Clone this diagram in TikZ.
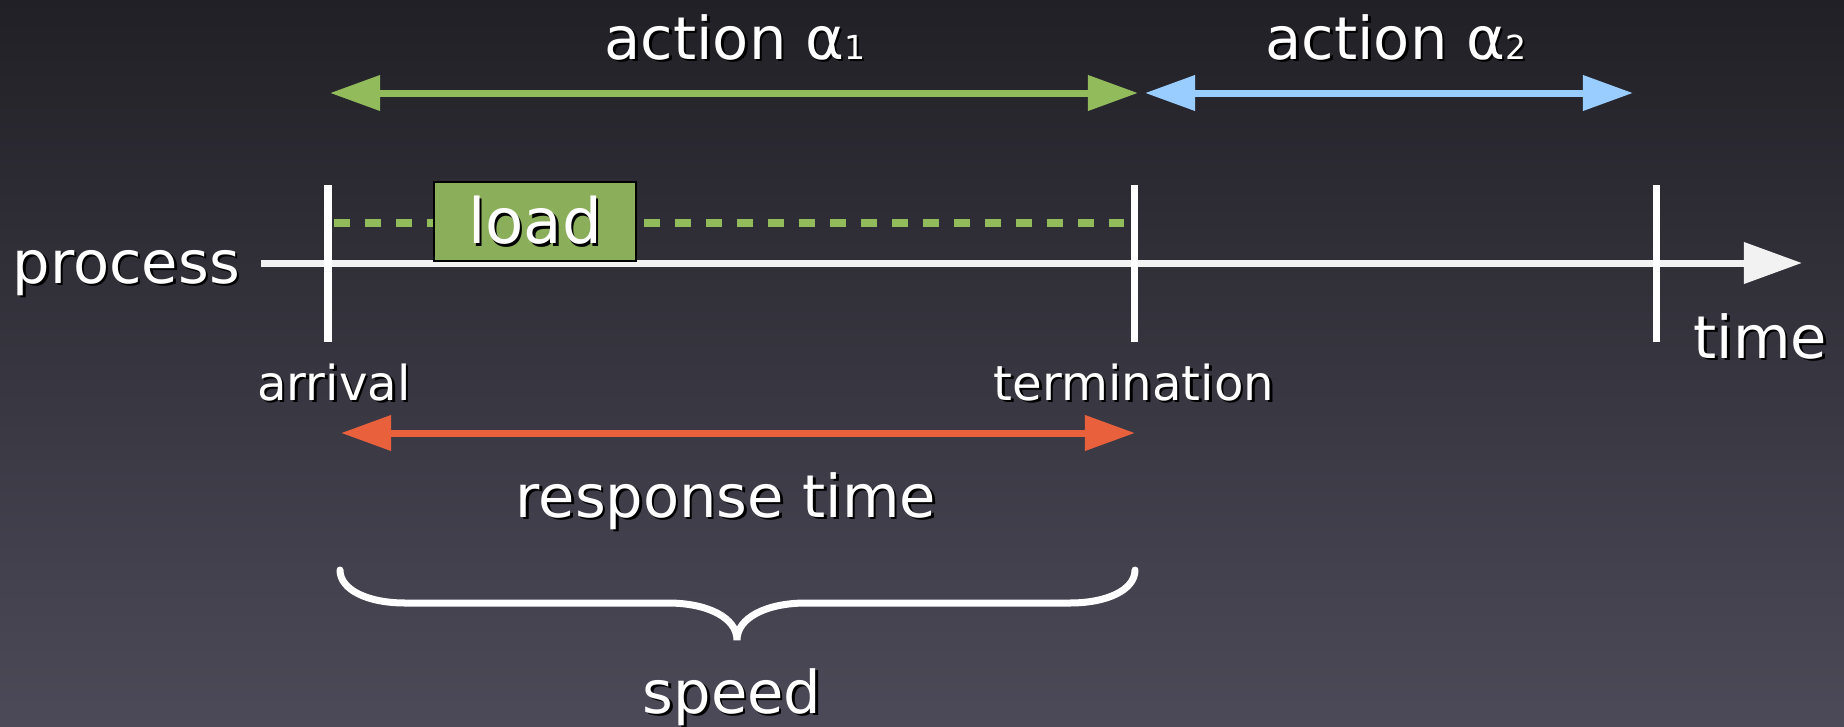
\documentclass[tikz,border=0pt]{standalone}
\usepackage{fontspec}
\setmainfont{DejaVu Sans}
\usetikzlibrary{arrows.meta}

\definecolor{bgtop}{HTML}{212026}
\definecolor{bgbot}{HTML}{4C4A58}
\definecolor{actgreen}{HTML}{92BB5C}
\definecolor{loadgreen}{HTML}{8AAE5A}
\definecolor{actblue}{HTML}{99CCFF}
\definecolor{respred}{HTML}{E9603D}
\definecolor{axisgray}{HTML}{F2F2F2}

% text with a small drop shadow
\newcommand\shtext[1]{\makebox[0pt][l]{\kern0.7pt\raisebox{-0.7pt}{\color{black}#1}}#1}

\tikzset{
    big/.style={text=white, inner sep=0pt, font=\fontsize{16.8pt}{19pt}\selectfont},
    small/.style={text=white, inner sep=0pt, font=\fontsize{13.7pt}{16pt}\selectfont},
    span/.style={line width=0.07cm, {Triangle[length=0.5cm,width=0.34cm]}-{Triangle[length=0.5cm,width=0.34cm]}},
    mark line/.style={white, line width=0.07cm}
}

\begin{document}
\begin{tikzpicture}[x=0.01cm, y=-0.01cm]
            \useasboundingbox (0,0) rectangle (1844,727);
            \shade[top color=bgtop, bottom color=bgbot] (0,0) rectangle (1844,727);

            % the two actions
            \coordinate (a1s) at (330,93);
            \coordinate (a1e) at (1138,93);
            \coordinate (a2s) at (1145,93);
            \coordinate (a2e) at (1633,93);
            \draw[span, actgreen] (a1s) -- (a1e);
            \draw[span, actblue] (a2s) -- (a2e);
            \node[big, anchor=base] (act1) at (735,59) {\shtext{action α{\fontsize{9.4pt}{10pt}\selectfont 1}}};
            \node[big, anchor=base] (act2) at (1396,59) {\shtext{action α{\fontsize{9.4pt}{10pt}\selectfont 2}}};

            % time axis
            \coordinate (start) at (261,263);
            \coordinate (end) at (1802,263);
            \draw[axisgray, line width=0.07cm, -{Triangle[length=0.58cm,width=0.4cm]}] (start) -- (end);
            \node[big, anchor=base west] (proc) at (12,283) {\shtext{process}};
            \node[big, anchor=base west] (time) at (1693,358) {\shtext{time}};

            % ticks
            \foreach \name/\x in {arr/328, term/1134, next/1656} {
                \coordinate (\name top) at (\x,185);
                \coordinate (\name bot) at (\x,342);
                \draw[mark line] (\name top) -- (\name bot);
            }

            % load
            \coordinate (ls) at (334,223);
            \coordinate (le) at (1124,223);
            \draw[actgreen, line width=0.08cm, dash pattern=on 0.16cm off 0.15cm] (ls) -- (le);
            \node[draw=black, line width=0.4pt, fill=loadgreen, minimum width=2.02cm, minimum height=0.79cm,
                  text=white, font=\fontsize{17.8pt}{20pt}\selectfont] (load) at (535,221.5) {\shtext{load}};

            \node[small, anchor=base] (arrival) at (334,400) {\shtext{arrival}};
            \node[small, anchor=base] (termination) at (1134,400) {\shtext{termination}};

            % response time
            \coordinate (rs) at (341,433);
            \coordinate (re) at (1135,433);
            \draw[span, respred] (rs) -- (re);
            \node[big, anchor=base] (resp) at (726,517) {\shtext{response time}};

            % brace
            \coordinate (bl) at (340,570);
            \coordinate (bm) at (737,640);
            \coordinate (br) at (1135,570);
            \draw[white, line width=0.07cm, line cap=round]
                (bl) .. controls (340,590) and (368,603) .. (405,603) -- (668,603)
                .. controls (708,603) and (737,618) .. (bm)
                .. controls (737,618) and (766,603) .. (806,603) -- (1070,603)
                .. controls (1107,603) and (1135,590) .. (br);
            \node[big, anchor=base] (speed) at (732,713) {\shtext{speed}};
\end{tikzpicture}
\end{document}
